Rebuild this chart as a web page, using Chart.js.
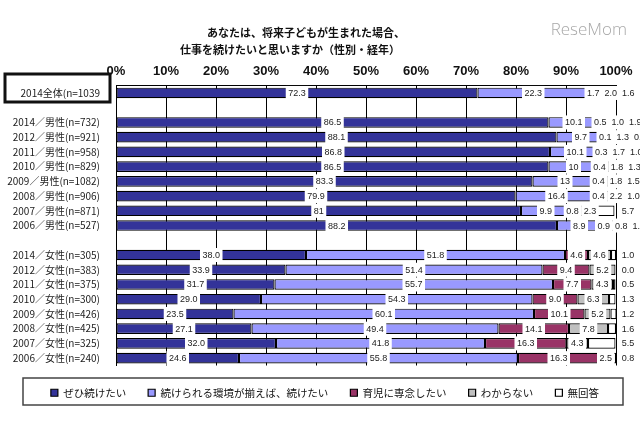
<!DOCTYPE html>
<html lang="ja">
<head>
<meta charset="utf-8">
<title>将来子どもが生まれた場合、仕事を続けたいか</title>
<script src="https://cdn.jsdelivr.net/npm/chart.js@4.4.1/dist/chart.umd.min.js"></script>
<style>
  html, body { margin: 0; padding: 0; background: #fff; }
  #wrap { width: 640px; height: 426px; }
</style>
</head>
<body>
<div id="wrap"><canvas id="chart" width="640" height="426"></canvas></div>
<script>
// rows of the chart, '' = empty spacer row
const categories = [
    '2014全体(n=1039', '',
    '2014／男性(n=732)', '2012／男性(n=921)', '2011／男性(n=958)', '2010／男性(n=829)',
    '2009／男性(n=1082)', '2008／男性(n=906)', '2007／男性(n=871)', '2006／男性(n=527)', '',
    '2014／女性(n=305)', '2012／女性(n=383)', '2011／女性(n=375)', '2010／女性(n=300)',
    '2009／女性(n=426)', '2008／女性(n=425)', '2007／女性(n=325)', '2006／女性(n=240)'
];

const seriesNames = ['ぜひ続けたい', '続けられる環境が揃えば、続けたい', '育児に専念したい', 'わからない', '無回答'];

const definitely  = [72.3, null, 86.5, 88.1, 86.8, 86.5, 83.3, 79.9, 81, 88.2, null, 38.0, 33.9, 31.7, 29.0, 23.5, 27.1, 32.0, 24.6];
const ifPossible  = [22.3, null, 10.1, 9.7, 10.1, 10, 13, 16.4, 9.9, 8.9, null, 51.8, 51.4, 55.7, 54.3, 60.1, 49.4, 41.8, 55.8];
const childcare   = [1.7, null, 0.5, 0.1, 0.3, 0.4, 0.4, 0.4, 0.8, 0.9, null, 4.6, 9.4, 7.7, 9.0, 10.1, 14.1, 16.3, 16.3];
const dontKnow    = [2.0, null, 1.0, 1.3, 1.7, 1.8, 1.8, 2.2, 2.3, 0.8, null, 4.6, 5.2, 4.3, 6.3, 5.2, 7.8, 4.3, 2.5];
const noAnswer    = [1.6, null, 1.9, 0.9, 1.0, 1.3, 1.5, 1.0, 5.7, 1.1, null, 1.0, 0.0, 0.5, 1.3, 1.2, 1.6, 5.5, 0.8];

const xTicks = [0, 10, 20, 30, 40, 50, 60, 70, 80, 90, 100];

const colors = ['#333399', '#9999ff', '#993366', '#c0c0c0', '#ffffff'];
const jpFont = '"Noto Sans CJK JP", "Noto Sans", sans-serif';
const narrowFont = '"Liberation Sans Narrow", "Arial Narrow", "Liberation Sans", sans-serif';

// men's rows were typed without decimals in the source sheet
function formatValue(v, cat) {
    if (cat.includes('男性') && Number.isInteger(v) && v >= 10) return String(v);
    return v.toFixed(1);
}

// value labels sit in white boxes, pushed right when they would overlap
const segmentLabels = {
    id: 'segmentLabels',
    afterDatasetsDraw(chart) {
        const ctx = chart.ctx;
        const right = chart.chartArea.right;
        const last = chart.data.datasets.length - 1;
        ctx.save();
        ctx.font = '9px ' + narrowFont;
        ctx.textAlign = 'center';
        ctx.textBaseline = 'middle';
        categories.forEach((cat, j) => {
            let prevRight = -Infinity;
            chart.data.datasets.forEach((ds, i) => {
                const v = ds.data[j];
                if (v === null || v === undefined) return;
                const bar = chart.getDatasetMeta(i).data[j];
                const text = formatValue(v, cat);
                const w = ctx.measureText(text).width + 5;
                let cx = (bar.x + bar.base) / 2;
                if (i === last) cx = Math.max(cx, right + 12);
                cx = Math.max(cx, prevRight + w / 2);
                ctx.fillStyle = '#fff';
                ctx.fillRect(cx - w / 2, bar.y - 7, w, 14);
                ctx.fillStyle = '#222';
                ctx.fillText(text, cx, bar.y + 0.5);
                prevRight = cx + w / 2;
            });
        });
        ctx.restore();
    }
};

// move the legend a bit right, as in the original sheet
const legendShift = {
    id: 'legendShift',
    afterLayout(chart) {
        const lg = chart.legend;
        lg.left += 17;
        lg.right += 17;
        lg.adjustHitBoxes();
    }
};

// title, logo, box round the total row and the legend frame
const decorations = {
    id: 'decorations',
    afterDraw(chart) {
        const ctx = chart.ctx;
        ctx.save();
        ctx.fillStyle = '#111';
        ctx.font = 'bold 11px ' + jpFont;
        ctx.textAlign = 'left';
        ctx.textBaseline = 'middle';
        ctx.fillText('あなたは、将来子どもが生まれた場合、', 207, 33);
        ctx.fillText('仕事を続けたいと思いますか（性別・経年）', 180, 50);

        ctx.fillStyle = '#a8a8a8';
        ctx.font = '300 17px "Open Sans", "DejaVu Sans", sans-serif';
        ctx.textAlign = 'right';
        ctx.fillText('ReseMom', 627, 30);

        ctx.strokeStyle = '#111';
        ctx.lineWidth = 3;
        ctx.strokeRect(5, 74, 105, 28);

        // frame round the legend
        ctx.strokeStyle = '#444';
        ctx.lineWidth = 1.5;
        ctx.strokeRect(23, 378, 600, 27);
        ctx.restore();
    }
};

const seriesValues = [definitely, ifPossible, childcare, dontKnow, noAnswer];

new Chart(document.getElementById('chart'), {
    type: 'bar',
    data: {
        labels: categories,
        datasets: seriesValues.map((values, i) => ({
            label: seriesNames[i],
            data: values,
            backgroundColor: colors[i],
            borderColor: '#000',
            borderWidth: 1.2,
            borderSkipped: false,
            barPercentage: 0.72,
            categoryPercentage: 1
        }))
    },
    options: {
        indexAxis: 'y',
        responsive: false,
        animation: false,
        devicePixelRatio: 1,
        layout: { padding: { top: 58, right: 24, bottom: 18, left: 0 } },
        scales: {
            x: {
                position: 'top',
                stacked: true,
                min: 0,
                max: 100,
                afterBuildTicks(scale) {
                    scale.ticks = xTicks.map(v => ({ value: v }));
                },
                ticks: {
                    padding: 6,
                    color: '#111',
                    font: { family: narrowFont, size: 13, weight: 'bold' },
                    callback: v => v + '%'
                },
                grid: { color: '#000', lineWidth: 1, drawTicks: false },
                border: { color: '#000', width: 1 }
            },
            y: {
                stacked: true,
                afterFit(scale) { scale.width = 116; },
                ticks: {
                    autoSkip: false,
                    padding: 8,
                    color: '#222',
                    font: { family: jpFont, size: 10 }
                },
                grid: { display: false },
                border: { color: '#000', width: 1 }
            }
        },
        plugins: {
            title: { display: false },
            tooltip: { enabled: false },
            legend: {
                position: 'bottom',
                labels: {
                    boxWidth: 7,
                    boxHeight: 7,
                    padding: 22,
                    color: '#111',
                    font: { family: jpFont, size: 10.5 }
                }
            }
        }
    },
    plugins: [legendShift, segmentLabels, decorations]
});
</script>
</body>
</html>
